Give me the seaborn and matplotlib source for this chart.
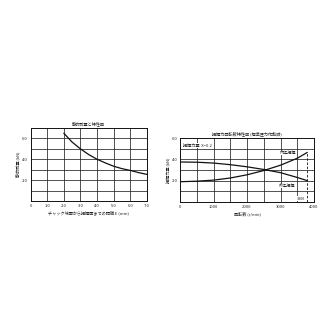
import matplotlib
matplotlib.use("Agg")
import matplotlib.pyplot as plt
import seaborn as sns
import pandas as pd

sns.set_theme(style="white")
plt.rcParams['font.family'] = ['Noto Sans CJK JP', 'DejaVu Sans']

# ---- data: left chart ----
dist_e = [2.0, 2.5, 3.0, 3.5, 4.0, 4.5, 5.0, 5.5, 6.0, 6.5, 7.0]
static_cap = [6.5, 5.65, 5.0, 4.45, 4.0, 3.65, 3.33, 3.1, 2.93, 2.72, 2.55]
left_xticks = [0, 1, 2, 3, 4, 5, 6, 7]
left_xlabels = ["0", "1.0", "2.0", "3.0", "4.0", "5.0", "6.0", "7.0"]
left_yticks = [2, 4, 6]
left_ylabels = ["2.0", "4.0", "6.0"]

# ---- data: right chart ----
rpm = [0, 500, 1000, 1500, 2000, 2500, 3000, 3500, 3800]
inner_grip = [1.9, 1.95, 2.05, 2.25, 2.55, 2.95, 3.45, 4.1, 4.65]
outer_grip = [3.75, 3.73, 3.65, 3.5, 3.3, 3.05, 2.75, 2.3, 2.0]
right_xticks = [0, 1000, 2000, 3000, 4000]
right_xlabels = ["0", "1000", "2000", "3000", "4000"]
right_yticks = [2, 4, 6]
right_ylabels = ["2.0", "4.0", "6.0"]
max_rpm = 3800

fs = 3.0
W = 334.0
fig = plt.figure(figsize=(3.34, 3.34), dpi=100)

def style(ax, xlim, ylim, xgrid, ygrid):
    ax.set_xlim(*xlim)
    ax.set_ylim(*ylim)
    for x in xgrid:
        ax.axvline(x, color="#222222", lw=0.55, zorder=1)
    for y in ygrid:
        ax.axhline(y, color="#222222", lw=0.55, zorder=1)
    for s in ax.spines.values():
        s.set_color("#111111")
        s.set_linewidth(0.7)
    ax.tick_params(length=0, pad=2, labelsize=fs, colors="#222222")

# Left chart
ax1 = fig.add_axes([30.5 / W, 1 - 201 / W, 116.5 / W, 73 / W])
style(ax1, (0, 7), (0, 7), range(1, 7), range(1, 7))
df1 = pd.DataFrame({"E": dist_e, "cap": static_cap})
sns.lineplot(data=df1, x="E", y="cap", ax=ax1, color="#111111", lw=0.9, zorder=3)
ax1.set_xticks(left_xticks, left_xlabels)
ax1.set_yticks(left_yticks, left_ylabels)
ax1.set_xlabel("チャック端面から把握面までの距離 E (mm)", fontsize=fs, labelpad=2)
ax1.set_ylabel("静的耐量 (kN)", fontsize=fs, labelpad=1)
ax1.set_title("静的耐量と特性図", fontsize=fs, pad=2)

# Right chart
ax2 = fig.add_axes([180 / W, 1 - 202 / W, 134 / W, 64 / W])
style(ax2, (0, 4000), (0, 6), range(500, 4000, 500), range(1, 6))
df2 = pd.DataFrame({"rpm": rpm + rpm,
                    "force": inner_grip + outer_grip,
                    "kind": ["内径把握"] * len(rpm) + ["外径把握"] * len(rpm)})
sns.lineplot(data=df2, x="rpm", y="force", hue="kind", ax=ax2,
             palette=["#111111", "#111111"], lw=0.9, legend=False, zorder=3)
ax2.plot([max_rpm, max_rpm], [0, inner_grip[-1]], ls=(0, (3, 2)), color="#111111", lw=0.6, zorder=3)
ax2.text(max_rpm - 60, 0.3, "3800", fontsize=fs - 0.3, ha="right", va="center",
         bbox=dict(facecolor="white", edgecolor="none", pad=0.3), zorder=4)
ax2.text(3450, 4.6, "内径把握", fontsize=fs, ha="right", va="center",
         bbox=dict(facecolor="white", edgecolor="none", pad=0.3), zorder=4)
ax2.text(3450, 1.5, "外径把握", fontsize=fs, ha="right", va="center",
         bbox=dict(facecolor="white", edgecolor="none", pad=0.3), zorder=4)
ax2.text(80, 5.3, "把握力量  X=0.2", fontsize=fs, ha="left", va="center",
         bbox=dict(facecolor="white", edgecolor="none", pad=0.3), zorder=4)
ax2.set_xticks(right_xticks, right_xlabels)
ax2.set_yticks(right_yticks, right_ylabels)
ax2.set_xlabel("回転数 (r/min)", fontsize=fs, labelpad=2)
ax2.set_ylabel("把握力量 (kN)", fontsize=fs, labelpad=1)
ax2.set_title("把握力回転数特性図 (標準圧力作動時)", fontsize=fs, pad=2)

fig.savefig("out.png", dpi=100, facecolor="white")
